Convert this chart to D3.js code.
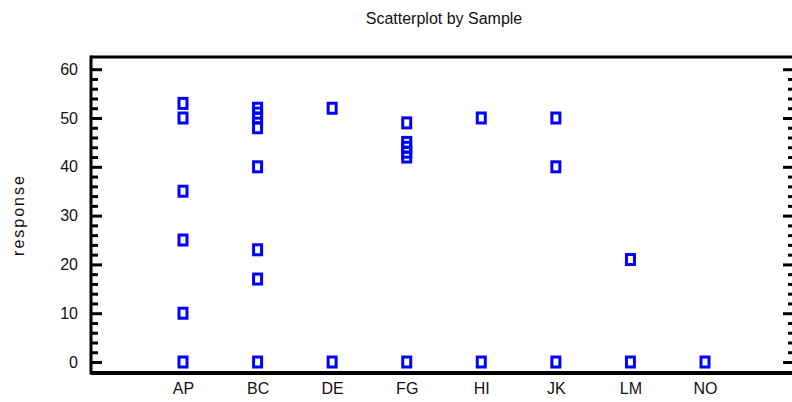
<!DOCTYPE html>
<html>
<head>
<meta charset="utf-8">
<script src="https://cdn.jsdelivr.net/npm/d3@7"></script>
<style>
  body { margin: 0; background: #fff; }
  text { font-family: "Liberation Sans Narrow", "Liberation Sans", Arial, sans-serif; fill: #111; }
</style>
</head>
<body>
<div id="chart"></div>
<script>
// categories and the responses
const samples = ['AP', 'BC', 'DE', 'FG', 'HI', 'JK', 'LM', 'NO'];
const apValues = [53, 50, 35, 25, 10, 0];
const bcValues = [52, 51, 50, 48, 40, 23, 17, 0];
const deValues = [52, 0];
const fgValues = [49, 45, 44, 43, 42, 0];
const hiValues = [50, 0];
const jkValues = [50, 40, 0];
const lmValues = [21, 0];
const noValues = [0];
const yMajorTicks = [0, 10, 20, 30, 40, 50, 60];
const yMinorTicks = d3.range(0, 61, 2).filter(v => v % 10 !== 0);

const width = 792;
const height = 402;
const plot = { left: 91, right: 792, top: 57, bottom: 373 };

const columns = [apValues, bcValues, deValues, fgValues, hiValues, jkValues, lmValues, noValues];
let points = [];
columns.forEach((vals, i) => {
  points = points.concat(vals.map(v => ({ sample: samples[i], value: v })));
});

const svg = d3.select('#chart')
  .append('svg')
    .attr('width', width)
    .attr('height', height);

const x = d3.scalePoint()
  .domain(samples)
  .range([plot.left + 92, plot.right - 87]);

const y = d3.scaleLinear()
  .domain([-2.25, 62.5])
  .range([plot.bottom, plot.top]);

// title
svg.append('text')
  .attr('x', 444)
  .attr('y', 24)
  .attr('text-anchor', 'middle')
  .style('font-size', '16px')
  .text('Scatterplot by Sample');

// y label
svg.append('text')
  .attr('transform', `translate(24, ${(plot.top + plot.bottom) / 2}) rotate(-90)`)
  .attr('text-anchor', 'middle')
  .style('font-size', '16px')
  .style('letter-spacing', '2px')
  .text('response');

// left axis: major ticks with labels, pointing inward
const leftMajor = svg.append('g')
  .attr('transform', `translate(${plot.left}, 0)`)
  .call(d3.axisLeft(y).tickValues(yMajorTicks).tickSize(-11).tickPadding(13).tickSizeOuter(0));
leftMajor.select('.domain').remove();
leftMajor.selectAll('line').attr('stroke', '#000').attr('stroke-width', 3);
leftMajor.selectAll('text').style('font-size', '16px').style('font-family', '"Liberation Sans Narrow", "Liberation Sans", Arial, sans-serif');

const leftMinor = svg.append('g')
  .attr('transform', `translate(${plot.left}, 0)`)
  .call(d3.axisLeft(y).tickValues(yMinorTicks).tickSize(-7).tickFormat(''));
leftMinor.select('.domain').remove();
leftMinor.selectAll('line').attr('stroke', '#000').attr('stroke-width', 3);

// right axis: ticks only
const rightMajor = svg.append('g')
  .attr('transform', `translate(${plot.right}, 0)`)
  .call(d3.axisRight(y).tickValues(yMajorTicks).tickSize(-9).tickFormat(''));
rightMajor.select('.domain').remove();
rightMajor.selectAll('line').attr('stroke', '#000').attr('stroke-width', 3);

const rightMinor = svg.append('g')
  .attr('transform', `translate(${plot.right}, 0)`)
  .call(d3.axisRight(y).tickValues(yMinorTicks).tickSize(-4).tickFormat(''));
rightMinor.select('.domain').remove();
rightMinor.selectAll('line').attr('stroke', '#000').attr('stroke-width', 3);

// frame: left, top, bottom
svg.append('line')
  .attr('x1', plot.left).attr('x2', plot.left)
  .attr('y1', plot.top - 1.5).attr('y2', plot.bottom + 1.5)
  .attr('stroke', '#000').attr('stroke-width', 3);
svg.append('line')
  .attr('x1', plot.left).attr('x2', width)
  .attr('y1', plot.top).attr('y2', plot.top)
  .attr('stroke', '#000').attr('stroke-width', 3);
svg.append('line')
  .attr('x1', plot.left).attr('x2', width)
  .attr('y1', plot.bottom).attr('y2', plot.bottom)
  .attr('stroke', '#000').attr('stroke-width', 4);

// x axis labels
const xAxis = svg.append('g')
  .attr('transform', `translate(0, ${plot.bottom})`)
  .call(d3.axisBottom(x).tickSize(0).tickPadding(10));
xAxis.select('.domain').remove();
xAxis.selectAll('text').style('font-size', '16px').style('font-family', '"Liberation Sans Narrow", "Liberation Sans", Arial, sans-serif');

// points
svg.append('g')
  .selectAll('rect')
  .data(points)
  .enter().append('rect')
    .attr('x', d => x(d.sample) - 4)
    .attr('y', d => y(d.value) - 5)
    .attr('width', 8)
    .attr('height', 10)
    .attr('fill', 'none')
    .attr('stroke', '#0000ff')
    .attr('stroke-width', 3);
</script>
</body>
</html>
